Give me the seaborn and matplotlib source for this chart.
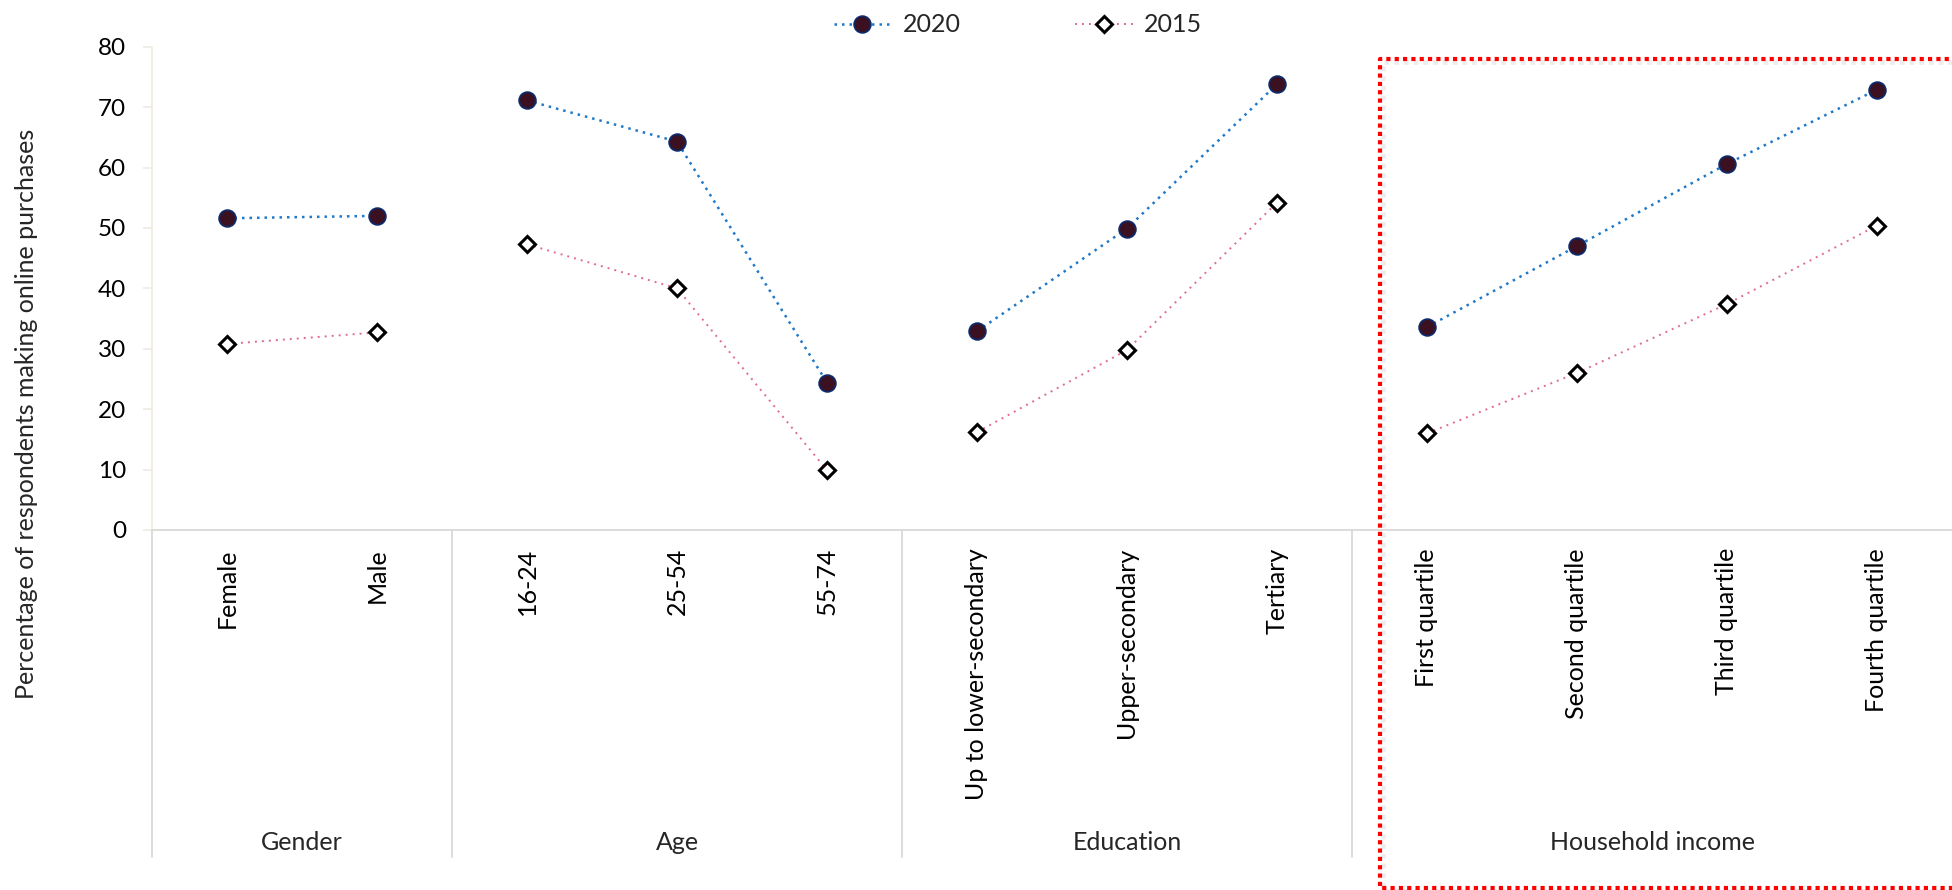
import numpy as np
import pandas as pd
import matplotlib
matplotlib.use("Agg")
import matplotlib.pyplot as plt
import matplotlib.transforms as mtransforms
from matplotlib.lines import Line2D
import seaborn as sns

# ---------------- data ----------------
groups = ["Gender", "Age", "Education", "Household income"]
gender_cats = ["Female", "Male"]
age_cats = ["16-24", "25-54", "55-74"]
education_cats = ["Up to lower-secondary", "Upper-secondary", "Tertiary"]
income_cats = ["First quartile", "Second quartile", "Third quartile", "Fourth quartile"]
group_categories = [gender_cats, age_cats, education_cats, income_cats]

values_2020 = [51.6, 52.0, 71.1, 64.3, 24.4, 32.9, 49.9, 73.8, 33.6, 47.0, 60.6, 72.9]
values_2015 = [30.8, 32.7, 47.3, 40.0, 9.9, 16.2, 29.8, 54.2, 16.0, 26.0, 37.4, 50.4]
years = ["2020", "2015"]
y_ticks = [0, 10, 20, 30, 40, 50, 60, 70, 80]
y_label = "Percentage of respondents making online purchases"

# ---------------- table ----------------
rows = []
pos = 0
for g, cats in zip(groups, group_categories):
    for c in cats:
        rows.append({"group": g, "category": c, "pos": pos, "year": "2020", "value": values_2020[pos]})
        rows.append({"group": g, "category": c, "pos": pos, "year": "2015", "value": values_2015[pos]})
        pos += 1
df = pd.DataFrame(rows)
n_cats = pos

# ---------------- figure ----------------
sns.set_theme(style="white")
plt.rcParams["font.family"] = ["Lato", "DejaVu Sans"]

W, H = 1952, 890
fig = plt.figure(figsize=(W / 100, H / 100), dpi=100)
fx = lambda px: px / W
fy = lambda py: 1 - py / H

ax_left, ax_right, ax_top, ax_bottom = 152, 1952, 46.7, 530
ax = fig.add_axes([fx(ax_left), fy(ax_bottom), (ax_right - ax_left) / W, (ax_bottom - ax_top) / H])

styles = {
    "2020": dict(color="#1F78C8", linewidth=1.8, linestyle=(0, (1, 2)), marker="o",
                 markersize=12, markerfacecolor="#3B1020", markeredgecolor="#0D2A6B",
                 markeredgewidth=1.3),
    "2015": dict(color="#E06C8F", linewidth=1.4, linestyle=(0, (1, 2.6)), marker="D",
                 markersize=8.5, markerfacecolor="white", markeredgecolor="black",
                 markeredgewidth=2.2),
}

for g in groups:
    for yr in years:
        sub = df[(df["group"] == g) & (df["year"] == yr)]
        sns.lineplot(data=sub, x="pos", y="value", ax=ax, legend=False, **styles[yr])

ax.set_xlim(-0.5, n_cats - 0.5)
ax.set_ylim(0, 80)
ax.set_yticks(y_ticks)
ax.set_yticklabels([str(v) for v in y_ticks])
ax.set_xticks(df["pos"].unique())
ax.set_xticklabels(df.drop_duplicates("pos")["category"], rotation=90, va="top", ha="center")
ax.set_xlabel("")
ax.set_ylabel("")

for s in ["top", "right"]:
    ax.spines[s].set_visible(False)
ax.spines["left"].set_color("#EEEAE0")
ax.spines["left"].set_linewidth(1.1)
ax.spines["bottom"].set_color("#D9D9D9")
ax.spines["bottom"].set_linewidth(1.3)
ax.tick_params(axis="y", length=6.5, width=1.1, color="#EEEAE0", pad=12,
               labelsize=17.5, labelcolor="black", left=True)
ax.tick_params(axis="x", length=0, pad=13, labelsize=18, labelcolor="black")
ax.grid(False)

# group separators and labels
ax_h = ax_bottom - ax_top
trans = mtransforms.blended_transform_factory(ax.transData, ax.transAxes)
sep_bottom = -(857 - ax_bottom) / ax_h
label_y = -(842 - ax_bottom) / ax_h
start = 0
for g, cats in zip(groups, group_categories):
    ax.plot([start - 0.5, start - 0.5], [0, sep_bottom], transform=trans,
            color="#D9D9D9", lw=1.3, clip_on=False)
    center = start + (len(cats) - 1) / 2
    ax.text(center, label_y, g, transform=trans, ha="center", va="center", fontsize=18)
    start += len(cats)

# y label
fig.text(fx(27), fy(414), y_label, rotation=90, ha="center", va="center", fontsize=18)

# legend
handles = [Line2D([], [], **styles[yr]) for yr in years]
fig.legend(handles, years, loc="center", bbox_to_anchor=(fx(1018), fy(25)), ncol=2,
           frameon=False, handlelength=2.3, handletextpad=0.45, columnspacing=4.6,
           fontsize=18)

# red dotted highlight box
bx0, by0, by1, bx1 = 1380, 58.5, 887.5, 1965
fig.add_artist(Line2D([fx(bx1 + 3), fx(bx0 + 3), fx(bx0 + 3), fx(bx1 + 3)],
                      [fy(by1 + 3), fy(by1 + 3), fy(by0 + 3), fy(by0 + 3)],
                      transform=fig.transFigure, color="#DDDDDD", lw=3.5, alpha=0.5,
                      linestyle=(0, (1, 1)), solid_joinstyle="miter"))
fig.add_artist(Line2D([fx(bx1), fx(bx0), fx(bx0), fx(bx1)],
                      [fy(by1), fy(by1), fy(by0), fy(by0)],
                      transform=fig.transFigure, color="#FF0000", lw=3,
                      linestyle=(0, (1, 1)), solid_joinstyle="miter"))

fig.savefig("out.png", dpi=100)
